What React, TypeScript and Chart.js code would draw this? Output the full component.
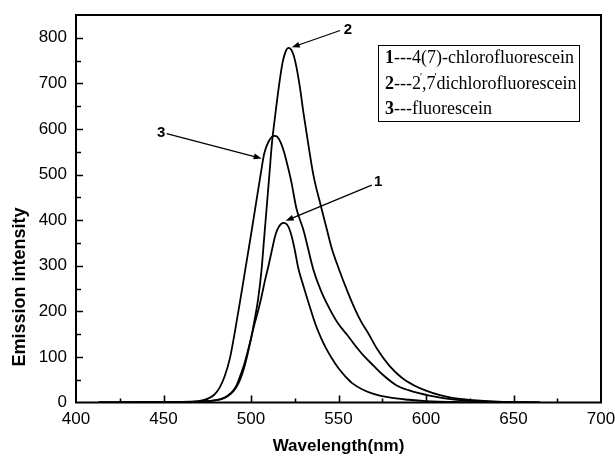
import React, { useEffect, useRef } from "react";
import { Chart, registerables } from "chart.js";

Chart.register(...registerables);

// ---- data ----
const wavelength1 = [413, 440, 460, 470, 475, 480, 484, 487, 490, 492, 494, 496, 498, 500, 502, 504, 506, 508, 510, 512, 514, 516, 518.5, 521, 523, 525, 527, 530, 534, 537, 540, 543, 546, 550, 554, 558, 564, 570, 579, 590, 600, 620, 640, 665];
const intensity1 = [0, 0.5, 1, 2, 3, 5, 9, 16, 27, 40, 60, 82, 110, 140, 172, 200, 232, 268, 300, 335, 368, 386, 394, 388, 368, 335, 295, 255, 205, 170, 142, 118, 98, 75, 57, 42, 28, 19, 11, 6, 3, 1, 0.5, 0];

const wavelength2 = [413, 440, 460, 470, 475, 480, 484, 487, 490, 492, 494, 496, 498, 500, 502, 504, 506, 507.5, 509, 510.5, 512, 514, 516, 518, 520, 521.5, 523, 524.5, 526, 528, 530, 532, 535.6, 540, 543, 546, 550, 555, 559.4, 563, 567, 572, 579, 586, 593, 600, 608, 615, 627, 640, 665];
const intensity2 = [0, 0.5, 1, 2, 3, 5, 9, 15, 25, 36, 52, 75, 105, 140, 180, 225, 290, 360, 430, 500, 570, 635, 695, 745, 772, 778, 774, 760, 735, 690, 635, 585, 500, 430, 385, 340, 295, 245, 205, 177, 152, 118, 81, 55, 38, 26, 16, 10, 5, 2, 0];

const wavelength3 = [413, 440, 455, 465, 470, 475, 479, 482, 485, 488, 491, 494, 497, 500, 503, 505.5, 507.5, 510, 513.3, 515, 517, 519, 521, 523, 526, 530, 535.6, 540, 545, 550, 555, 561, 565, 570, 575, 583, 590, 602, 615, 630, 650, 665];
const intensity3 = [0, 0.5, 1, 2, 3, 8, 17, 32, 58, 98, 160, 228, 298, 368, 440, 500, 545, 572, 585, 583, 570, 548, 518, 485, 425, 378, 292, 245, 205, 172, 148, 118, 100, 81, 62, 38, 27, 15, 7, 3, 1, 0];

const seriesNumbers = ["1", "2", "3"];
const seriesNames = ["4(7)-chlorofluorescein", "2\u2032,7\u2032dichlorofluorescein", "fluorescein"];

const xTitle = "Wavelength(nm)";
const yTitle = "Emission intensity";

// callout arrows (in data units: wavelength / intensity)
const calloutText = ["1", "2", "3"];
const calloutTextX = [572.6, 555.4, 448.6];
const calloutTextY = [483, 817, 591];
const calloutTailX = [569, 550.9, 451.8];
const calloutTailY = [477, 816, 590];
const calloutTipX = [519.8, 523.3, 506.1];
const calloutTipY = [398.7, 779, 535.5];

const SANS = "'Liberation Sans', Arial, Helvetica, sans-serif";
const SERIF = "'Liberation Serif', 'Times New Roman', serif";

const decorPlugin = {
  id: "decor",
  afterDraw(chart: any) {
    const { ctx, chartArea: a, scales } = chart;
    const xs = scales.x;
    const ys = scales.y;
    ctx.save();
    ctx.strokeStyle = "#000";
    ctx.fillStyle = "#000";

    // frame
    ctx.lineWidth = 2;
    ctx.strokeRect(a.left, a.top, a.right - a.left, a.bottom - a.top);

    // inward ticks
    ctx.lineWidth = 1.6;
    ctx.beginPath();
    xs.ticks.forEach((t: any) => {
      const v = t.value;
      if (v <= xs.min || v >= xs.max) return;
      const px = Math.round(xs.getPixelForValue(v)) + 0.5;
      const len = v % 50 === 0 ? 7 : 4;
      ctx.moveTo(px, a.bottom);
      ctx.lineTo(px, a.bottom - len);
    });
    ys.ticks.forEach((t: any) => {
      const v = t.value;
      if (v <= ys.min || v >= ys.max) return;
      const py = Math.round(ys.getPixelForValue(v)) + 0.5;
      const len = v % 100 === 0 ? 7 : 5;
      ctx.moveTo(a.left, py);
      ctx.lineTo(a.left + len, py);
    });
    ctx.stroke();

    // callouts
    for (let i = 0; i < calloutText.length; i++) {
      const x0 = xs.getPixelForValue(calloutTailX[i]);
      const y0 = ys.getPixelForValue(calloutTailY[i]);
      const x1 = xs.getPixelForValue(calloutTipX[i]);
      const y1 = ys.getPixelForValue(calloutTipY[i]);
      const ang = Math.atan2(y1 - y0, x1 - x0);
      const hl = 8;
      const hw = 3;
      ctx.lineWidth = 1.3;
      ctx.beginPath();
      ctx.moveTo(x0, y0);
      ctx.lineTo(x1 - Math.cos(ang) * hl * 0.8, y1 - Math.sin(ang) * hl * 0.8);
      ctx.stroke();
      ctx.beginPath();
      ctx.moveTo(x1, y1);
      ctx.lineTo(x1 - Math.cos(ang) * hl - Math.sin(ang) * hw, y1 - Math.sin(ang) * hl + Math.cos(ang) * hw);
      ctx.lineTo(x1 - Math.cos(ang) * hl + Math.sin(ang) * hw, y1 - Math.sin(ang) * hl - Math.cos(ang) * hw);
      ctx.closePath();
      ctx.fill();
      ctx.font = `bold 15px ${SANS}`;
      ctx.textAlign = "center";
      ctx.textBaseline = "middle";
      ctx.fillText(calloutText[i], xs.getPixelForValue(calloutTextX[i]), ys.getPixelForValue(calloutTextY[i]));
    }

    // legend box
    const bw = 201;
    const bh = 76;
    const bx = Math.round(a.right - 22 - bw);
    const by = Math.round(a.top + 30);
    ctx.lineWidth = 1;
    ctx.strokeRect(bx + 0.5, by + 0.5, bw, bh);
    const baselines = [18, 44, 69];
    ctx.textAlign = "left";
    ctx.textBaseline = "alphabetic";
    for (let i = 0; i < seriesNames.length; i++) {
      let x = bx + 7;
      const y = by + baselines[i];
      ctx.font = `bold 18px ${SERIF}`;
      ctx.fillText(seriesNumbers[i], x, y);
      x += ctx.measureText(seriesNumbers[i]).width;
      const text = "---" + seriesNames[i];
      const parts = text.split("\u2032");
      parts.forEach((p, k) => {
        ctx.font = `18px ${SERIF}`;
        ctx.fillText(p, x, y);
        x += ctx.measureText(p).width;
        if (k < parts.length - 1) {
          ctx.font = `11px ${SERIF}`;
          ctx.fillText("'", x - 1, y - 9);
          x += 1;
        }
      });
    }

    // axis titles
    ctx.font = `bold 17px ${SANS}`;
    ctx.textAlign = "center";
    ctx.textBaseline = "middle";
    ctx.fillText(xTitle, (a.left + a.right) / 2, 446);
    ctx.save();
    ctx.translate(20, 287);
    ctx.rotate(-Math.PI / 2);
    ctx.font = `bold 18px ${SANS}`;
    ctx.fillText(yTitle, 0, 0);
    ctx.restore();

    ctx.restore();
  },
};

function makeSeries(xs: number[], ys: number[]) {
  return xs.map((x, i) => ({ x, y: ys[i] }));
}

export default function App() {
  const ref = useRef<HTMLCanvasElement | null>(null);

  useEffect(() => {
    document.body.style.margin = "0";
    const canvas = ref.current;
    if (!canvas) return;
    const common = {
      borderColor: "#000",
      borderWidth: 1.8,
      pointRadius: 0,
      fill: false,
      cubicInterpolationMode: "monotone" as const,
    };
    const chart = new Chart(canvas, {
      type: "line",
      data: {
        datasets: [
          { ...common, label: seriesNames[0], data: makeSeries(wavelength1, intensity1) },
          { ...common, label: seriesNames[1], data: makeSeries(wavelength2, intensity2) },
          { ...common, label: seriesNames[2], data: makeSeries(wavelength3, intensity3) },
        ],
      },
      options: {
        responsive: false,
        animation: false,
        layout: { padding: { left: 0, top: 15, right: 14, bottom: 0 } },
        plugins: { legend: { display: false }, tooltip: { enabled: false } },
        scales: {
          x: {
            type: "linear",
            min: 400,
            max: 700,
            grid: { display: false, drawTicks: false },
            border: { display: false },
            ticks: {
              stepSize: 25,
              autoSkip: false,
              maxRotation: 0,
              padding: 7,
              color: "#000",
              font: { family: SANS, size: 17 },
              callback: (v: any) => (Number(v) % 50 === 0 ? String(v) : ""),
            },
            afterFit: (s: any) => {
              s.height = 57.5;
              s.paddingLeft = 0;
              s.paddingRight = 0;
            },
          },
          y: {
            type: "linear",
            min: 0,
            max: 850,
            grid: { display: false, drawTicks: false },
            border: { display: false },
            ticks: {
              stepSize: 50,
              autoSkip: false,
              padding: 9,
              color: "#000",
              font: { family: SANS, size: 17 },
              callback: (v: any) => (Number(v) % 100 === 0 ? String(v) : ""),
            },
            afterFit: (s: any) => {
              s.width = 76;
              s.paddingTop = 0;
              s.paddingBottom = 0;
            },
          },
        },
      },
      plugins: [decorPlugin],
    });
    return () => chart.destroy();
  }, []);

  return (
    <div style={{ width: 615, height: 460, background: "#fff" }}>
      <canvas ref={ref} width={615} height={460} style={{ display: "block" }} />
    </div>
  );
}
